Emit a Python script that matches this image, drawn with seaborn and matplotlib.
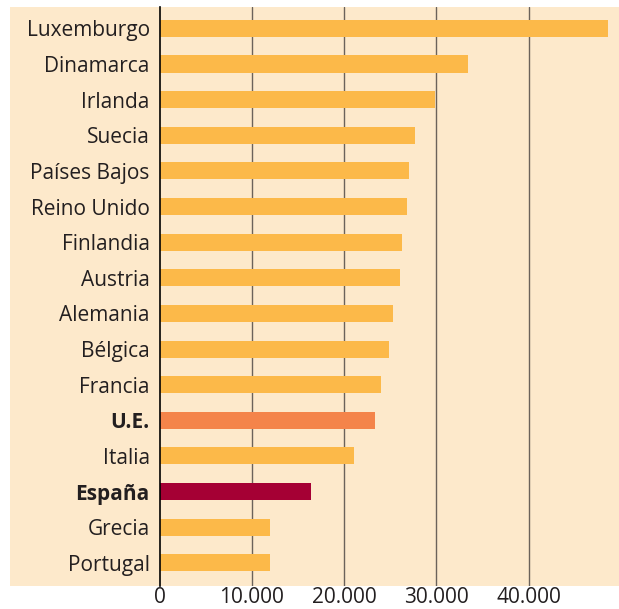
import pandas as pd
import matplotlib.pyplot as plt
import seaborn as sns
from matplotlib.patches import Rectangle

# ======================
# Data
# ======================
paises = ["Luxemburgo", "Dinamarca", "Irlanda", "Suecia", "Países Bajos",
          "Reino Unido", "Finlandia", "Austria", "Alemania", "Bélgica",
          "Francia", "U.E.", "Italia", "España", "Grecia", "Portugal"]
valores = [48650, 33450, 29900, 27700, 27050, 26850, 26300, 26100, 25300,
           24900, 24000, 23350, 21100, 16450, 12000, 12000]
destacados = ["U.E.", "España"]
ticks_x = [0, 10000, 20000, 30000, 40000]
ticks_x_labels = ["0", "10.000", "20.000", "30.000", "40.000"]

# ======================
# Colours
# ======================
crema = "#FDE9CB"
naranja = "#FCB949"
colores = {p: naranja for p in paises}
colores["U.E."] = "#F4844A"
colores["España"] = "#A50034"
texto = "#231F20"

df = pd.DataFrame({"pais": paises, "valor": valores})

sns.set_style("white")
plt.rcParams["font.family"] = ["Open Sans", "DejaVu Sans"]

fig = plt.figure(figsize=(6.19, 6.09), dpi=100)
fig.patch.set_facecolor("white")

# cream panel behind labels and bars
ax_bottom = 23 / 609
ax_top = 1 - 7 / 609
fig.patches.append(Rectangle((10 / 619, ax_bottom), 1 - 10 / 619, ax_top - ax_bottom,
                             transform=fig.transFigure, facecolor=crema,
                             edgecolor="none", zorder=-10))

ax = fig.add_axes([159.5 / 619, ax_bottom, 1 - 159.5 / 619, ax_top - ax_bottom])
ax.set_facecolor("none")

sns.barplot(data=df, x="valor", y="pais", hue="pais", palette=colores,
            dodge=False, legend=False, width=0.48, saturation=1,
            linewidth=0, ax=ax, zorder=3)

ax.set_xlim(0, 49800)
ax.set_ylim(15.65, -0.6)
ax.set_xticks(ticks_x)
ax.set_xticklabels(ticks_x_labels)
for x in ticks_x[1:]:
    ax.axvline(x, color="#6b625a", lw=1.0, zorder=1)

for s in ["top", "right", "bottom"]:
    ax.spines[s].set_visible(False)
ax.spines["left"].set_color("black")
ax.spines["left"].set_linewidth(1.2)
ax.spines["left"].set_zorder(4)

ax.set_xlabel("")
ax.set_ylabel("")
ax.tick_params(axis="both", length=0, labelsize=15, colors=texto)
ax.tick_params(axis="y", pad=7)
ax.tick_params(axis="x", pad=1)
for lbl in ax.get_yticklabels():
    if lbl.get_text() in destacados:
        lbl.set_fontweight("bold")

plt.savefig("out.png", dpi=100)
plt.close()
